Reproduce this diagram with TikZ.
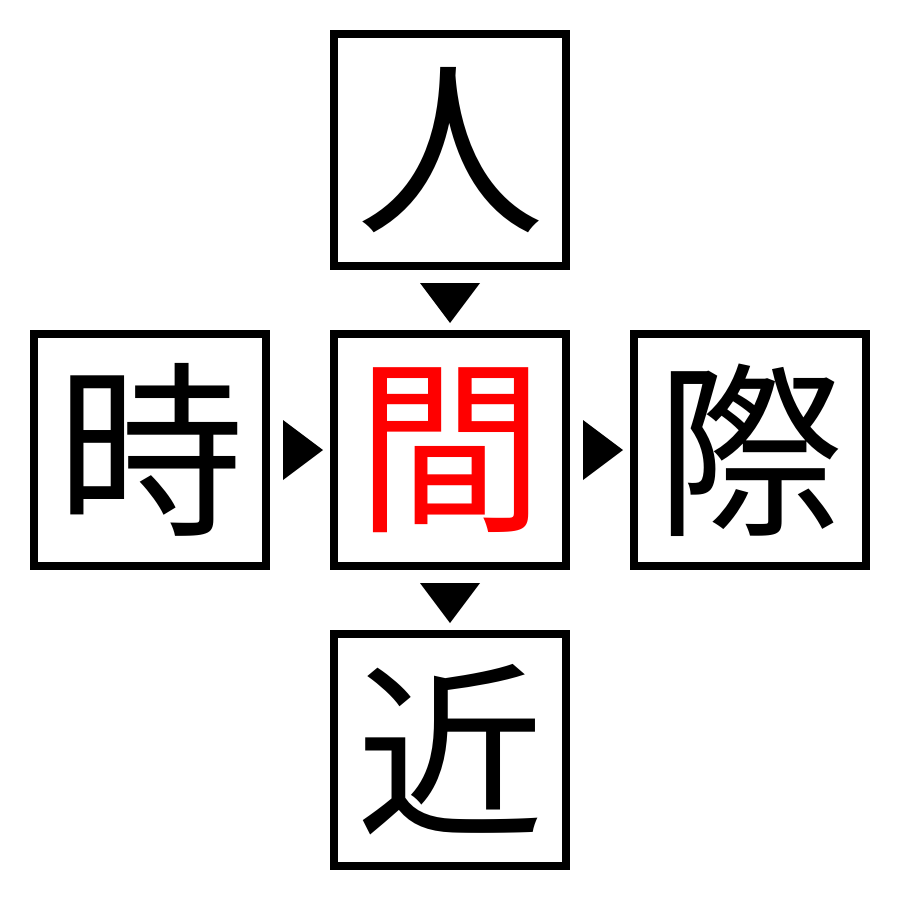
\documentclass[tikz,border=0pt]{standalone}
\usepackage{fontspec}
\newfontfamily\cjk{Noto Sans CJK JP}
\begin{document}
\begin{tikzpicture}[x=1pt,y=-1pt,
  kbox/.style={draw=black,line width=8pt,minimum size=232pt,inner sep=0pt,font=\cjk\fontsize{188}{188}\selectfont},
  tri/.style={fill=black}]
\useasboundingbox (0,0) rectangle (900,900);
\node[kbox] (top) at (450,150) {人};
\node[kbox] (left) at (150,450) {時};
\node[kbox,text=red] (mid) at (450,450) {間};
\node[kbox] (right) at (750,450) {際};
\node[kbox] (bot) at (450,750) {近};
\fill[tri] (420,283) -- (480,283) -- (450,323) -- cycle;
\fill[tri] (420,583) -- (480,583) -- (450,623) -- cycle;
\fill[tri] (283,420) -- (283,480) -- (323,450) -- cycle;
\fill[tri] (583,420) -- (583,480) -- (623,450) -- cycle;
\end{tikzpicture}
\end{document}
